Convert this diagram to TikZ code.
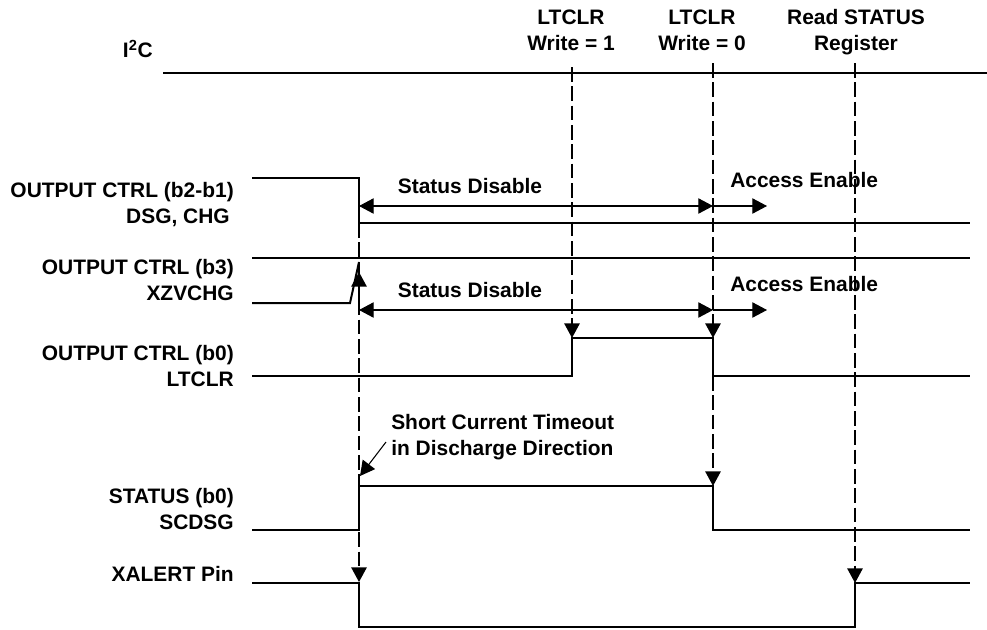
\documentclass[tikz,border=0pt]{standalone}
\usepackage{fontspec}
\setmainfont{Liberation Sans}
\usetikzlibrary{arrows.meta}

\tikzset{%
	wave/.style={line width=1.5pt},
	wave thin/.style={line width=0.9pt},
	guide/.style={line width=1.4pt, dash pattern=on 11pt off 3.5pt},
	span/.style={line width=0.8pt},
	lbl/.style={font=\fontsize{15.7}{19.5}\selectfont\bfseries, inner sep=0pt},
}

\begin{document}
\begin{tikzpicture}[x=0.75pt, y=-0.75pt, >={Triangle[length=11pt,width=11.5pt]}]
\useasboundingbox (0,0) rectangle (987,629);

% signal names
\node [lbl, anchor=base east] (i2c) at (153,57) {I\textsuperscript{2}C};
\foreach \n/\y/\l in {dsg/223/{OUTPUT CTRL (b2-b1)\\DSG, CHG\hspace*{3pt}},
                      xzv/300/{OUTPUT CTRL (b3)\\XZVCHG},
                      ltc/386/{OUTPUT CTRL (b0)\\LTCLR},
                      scd/529/{STATUS (b0)\\SCDSG},
                      xal/581/{XALERT Pin}}
\node [lbl, align=right, anchor=base east] (name-\n) at (234,\y) {\l};

% events on the bus
\foreach \n/\x/\l in {set/571/{LTCLR\\Write = 1},
                      clr/702/{LTCLR\\Write = 0},
                      rd/856/{Read STATUS\\Register}}
\node [lbl, align=center, anchor=base] (event-\n) at (\x,50) {\l};

% waveforms
\draw [wave] (163,73) -- (987,73);
\draw [wave] (252,178) -- (359,178) -- (359,223) -- (970,223);
\draw [wave] (252,258) -- (970,258);
\draw [wave] (252,303) -- (350,303) -- (359,262);
\draw [wave thin] (252,376) -- (572,376) -- (572,338) -- (713,338) -- (713,376) -- (970,376);
\draw [wave] (252,530) -- (359,530) -- (359,486) -- (713,486) -- (713,530) -- (970,530);
\draw [wave] (252,583) -- (359,583) -- (359,627) -- (855,627) -- (855,583) -- (970,583);

% dashed event lines
\draw [guide, ->] (359,223) -- (359,582);
\draw [guide, ->] (359,305) -- (359,272);
\draw [guide, ->] (572,67) -- (572,338);
\draw [guide, ->] (713,63) -- (713,338);
\draw [guide, ->] (713,376) -- (713,486);
\draw [guide, ->] (855,63) -- (855,583);

% disable / enable windows
\foreach \r/\y in {1/206, 2/310}
{
	\draw [span, <->] (359,\y) -- (713,\y);
	\draw [span, ->] (713,\y) -- (767,\y);
	\node [lbl, anchor=base] (dis-\r) at (470,\y-13) {Status Disable};
	\node [lbl, anchor=base west] (en-\r) at (730,\y-19) {Access Enable};
}

% short current note
\node [lbl, align=left, anchor=base west] (note) at (391,455) {Short Current Timeout\\in Discharge Direction};
\draw [span, ->] (386,442) -- (360,476);

\end{tikzpicture}
\end{document}
